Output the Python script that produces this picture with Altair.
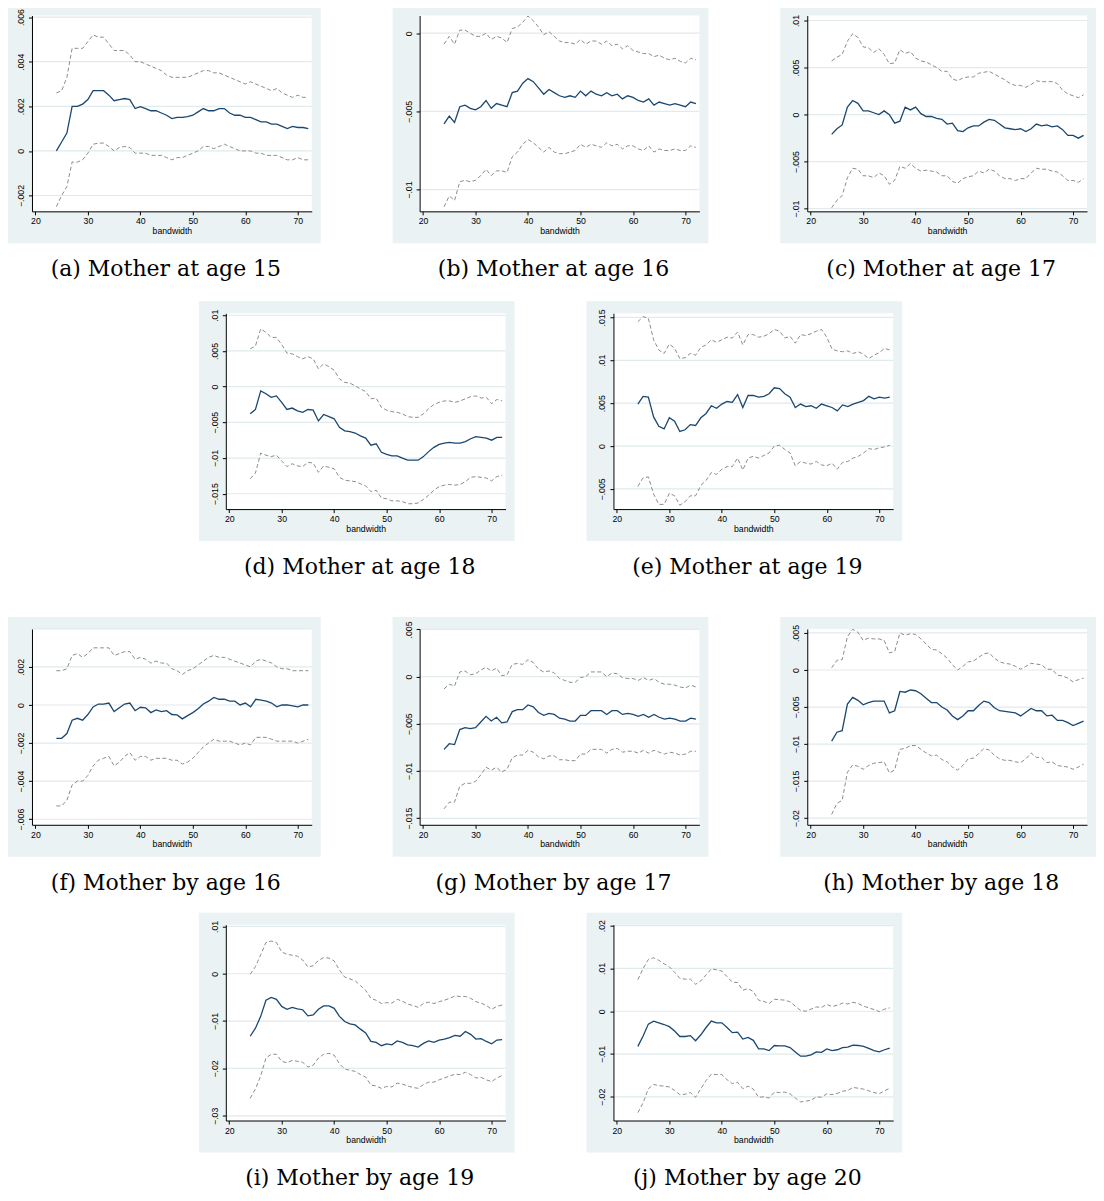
import altair as alt
import pandas as pd

BANDWIDTH = [24, 25, 26, 27, 28, 29, 30, 31, 32, 33,
             34, 35, 36, 37, 38, 39, 40, 41, 42, 43,
             44, 45, 46, 47, 48, 49, 50, 51, 52, 53,
             54, 55, 56, 57, 58, 59, 60, 61, 62, 63,
             64, 65, 66, 67, 68, 69, 70, 71, 72]

X_TICKS = [20, 30, 40, 50, 60, 70]

# (a) Mother at age 15
A_EST = [0.0000, 0.0004, 0.0008, 0.0020, 0.0020, 0.0021, 0.0023, 0.0027, 0.0027, 0.0027,
         0.0025, 0.00225, 0.0023, 0.00235, 0.0023, 0.0019, 0.00198, 0.0019, 0.0018, 0.0018,
         0.0017, 0.0016, 0.00145, 0.0015, 0.0015, 0.00154, 0.0016, 0.00175, 0.0019, 0.0018,
         0.0018, 0.0019, 0.0019, 0.0017, 0.0016, 0.0016, 0.0015, 0.0015, 0.0014, 0.0013,
         0.0013, 0.0012, 0.0012, 0.0011, 0.0010, 0.0011, 0.00105, 0.00105, 0.0010]
A_HI = [0.0026, 0.0027, 0.0033, 0.0046, 0.0046, 0.0046, 0.0049, 0.0052, 0.0051, 0.0051,
        0.0048, 0.0045, 0.0045, 0.0045, 0.0043, 0.0040, 0.0040, 0.0039, 0.0038, 0.0037,
        0.0036, 0.0034, 0.0033, 0.0033, 0.0033, 0.0033, 0.0034, 0.0035, 0.0036, 0.0036,
        0.0035, 0.0035, 0.0034, 0.0033, 0.0032, 0.0031, 0.0030, 0.0031, 0.0030, 0.0029,
        0.0028, 0.0027, 0.0028, 0.0026, 0.0025, 0.0024, 0.0025, 0.0024, 0.0024]
A_LO = [-0.0025, -0.0020, -0.0016, -0.0005, -0.0005, -0.0004, -0.0001, 0.0003, 0.00035, 0.00035,
        0.0002, 0.0000, 0.00015, 0.0002, 0.00015, -0.0001, -0.0001, -0.0001, -0.0002, -0.0002,
        -0.0002, -0.0003, -0.0004, -0.0003, -0.0003, -0.0002, -0.0001, 0.0000, 0.0002, 0.0002,
        0.0001, 0.0002, 0.0003, 0.0002, 0.0001, 0.0000, 0.0000, 0.0000, -0.0001, -0.0001,
        -0.0002, -0.0002, -0.0002, -0.0003, -0.0004, -0.0004, -0.0003, -0.0004, -0.0004]

# (b) Mother at age 16
B_EST = [-0.0058, -0.0053, -0.0057, -0.0047, -0.0046, -0.0048, -0.0049, -0.0047, -0.0043, -0.0048,
         -0.0045, -0.0046, -0.0047, -0.0038, -0.0037, -0.0032, -0.0029, -0.0031, -0.0035, -0.0039,
         -0.0036, -0.0038, -0.0040, -0.0041, -0.0040, -0.0041, -0.0037, -0.0040, -0.0037, -0.0039,
         -0.0040, -0.0038, -0.0040, -0.0039, -0.0042, -0.0040, -0.0041, -0.0043, -0.0044, -0.0042,
         -0.0046, -0.0044, -0.0045, -0.0046, -0.0045, -0.0046, -0.0047, -0.0044, -0.0045]
B_HI = [-0.0007, -0.0002, -0.0007, 0.0002, 0.0002, 0.0000, -0.0002, -0.0002, 0.0000, -0.0004,
        -0.0002, -0.0003, -0.0006, 0.0003, 0.0004, 0.0007, 0.0011, 0.0008, 0.0004, -0.0001,
        0.0001, -0.0002, -0.0005, -0.0006, -0.0006, -0.0007, -0.0004, -0.0007, -0.0005, -0.0005,
        -0.0007, -0.0005, -0.0008, -0.0007, -0.0010, -0.0008, -0.0011, -0.0012, -0.0013, -0.0013,
        -0.0015, -0.0014, -0.0016, -0.0017, -0.0016, -0.0018, -0.0019, -0.0016, -0.0017]
B_LO = [-0.0111, -0.0104, -0.0107, -0.0095, -0.0094, -0.0095, -0.0094, -0.0091, -0.0087, -0.0091,
        -0.0088, -0.0088, -0.0089, -0.0079, -0.0076, -0.0071, -0.0068, -0.0070, -0.0073, -0.0076,
        -0.0073, -0.0076, -0.0077, -0.0077, -0.0076, -0.0075, -0.0071, -0.0073, -0.0071, -0.0072,
        -0.0073, -0.0070, -0.0072, -0.0071, -0.0074, -0.0072, -0.0072, -0.0074, -0.0075, -0.0072,
        -0.0076, -0.0074, -0.0075, -0.0075, -0.0074, -0.0075, -0.0075, -0.0072, -0.0073]

# (c) Mother at age 17
C_EST = [-0.0021, -0.0015, -0.0011, 0.0008, 0.0015, 0.0012, 0.0004, 0.0004, 0.0002, 0.0000,
         0.0004, 0.0000, -0.0009, -0.0007, 0.0008, 0.0005, 0.0008, 0.0001, -0.0002, -0.0002,
         -0.0004, -0.0005, -0.0010, -0.0009, -0.0017, -0.0018, -0.0014, -0.0012, -0.0012, -0.0008,
         -0.0005, -0.0006, -0.0010, -0.0014, -0.0015, -0.0016, -0.0015, -0.0018, -0.0015, -0.0010,
         -0.0012, -0.0011, -0.0013, -0.0012, -0.0016, -0.0022, -0.0022, -0.0025, -0.0022]
C_HI = [0.0057, 0.0061, 0.0064, 0.0078, 0.0086, 0.0082, 0.0072, 0.0071, 0.0066, 0.0070,
        0.0064, 0.0054, 0.0055, 0.0069, 0.0065, 0.0067, 0.0060, 0.0057, 0.0056, 0.0053,
        0.0050, 0.0046, 0.0046, 0.0038, 0.0036, 0.0039, 0.0040, 0.0040, 0.0044, 0.0045,
        0.0046, 0.0043, 0.0040, 0.0037, 0.0033, 0.0031, 0.0031, 0.0029, 0.0032, 0.0036,
        0.0035, 0.0035, 0.0035, 0.0033, 0.0026, 0.0022, 0.0020, 0.0018, 0.0021]
C_LO = [-0.0099, -0.0091, -0.0086, -0.0067, -0.0057, -0.0058, -0.0065, -0.0065, -0.0067, -0.0062,
        -0.0065, -0.0074, -0.0070, -0.0055, -0.0057, -0.0052, -0.0057, -0.0060, -0.0059, -0.0060,
        -0.0061, -0.0065, -0.0065, -0.0071, -0.0073, -0.0068, -0.0066, -0.0065, -0.0060, -0.0062,
        -0.0058, -0.0060, -0.0065, -0.0068, -0.0068, -0.0070, -0.0068, -0.0068, -0.0062, -0.0057,
        -0.0058, -0.0058, -0.0060, -0.0061, -0.0065, -0.0070, -0.0070, -0.0072, -0.0068]

# (d) Mother at age 18
D_EST = [-0.0038, -0.0032, -0.0006, -0.0010, -0.0015, -0.0013, -0.0022, -0.0032, -0.0030, -0.0034,
         -0.0036, -0.0032, -0.0033, -0.0048, -0.0039, -0.0042, -0.0045, -0.0057, -0.0062, -0.0063,
         -0.0065, -0.0069, -0.0072, -0.0082, -0.0080, -0.0092, -0.0095, -0.0097, -0.0097, -0.0100,
         -0.0103, -0.0103, -0.0103, -0.0098, -0.0091, -0.0085, -0.0081, -0.0079, -0.0078, -0.0079,
         -0.0079, -0.0077, -0.0073, -0.0070, -0.0071, -0.0072, -0.0075, -0.0071, -0.0071]
D_HI = [0.0053, 0.0057, 0.0081, 0.0076, 0.0069, 0.0069, 0.0059, 0.0047, 0.0046, 0.0042,
        0.0039, 0.0042, 0.0039, 0.0025, 0.0032, 0.0028, 0.0023, 0.0011, 0.0006, 0.0005,
        0.0001, -0.0003, -0.0007, -0.0017, -0.0016, -0.0029, -0.0033, -0.0035, -0.0036, -0.0038,
        -0.0042, -0.0043, -0.0043, -0.0038, -0.0031, -0.0025, -0.0022, -0.0020, -0.0020, -0.0022,
        -0.0020, -0.0017, -0.0014, -0.0013, -0.0016, -0.0015, -0.0024, -0.0018, -0.0020]
D_LO = [-0.0129, -0.0121, -0.0093, -0.0096, -0.0098, -0.0096, -0.0104, -0.0112, -0.0108, -0.0111,
        -0.0112, -0.0106, -0.0107, -0.0120, -0.0111, -0.0113, -0.0115, -0.0127, -0.0131, -0.0132,
        -0.0133, -0.0136, -0.0139, -0.0147, -0.0145, -0.0156, -0.0157, -0.0160, -0.0160, -0.0161,
        -0.0164, -0.0164, -0.0163, -0.0158, -0.0152, -0.0145, -0.0140, -0.0138, -0.0137, -0.0138,
        -0.0137, -0.0133, -0.0127, -0.0126, -0.0127, -0.0128, -0.0132, -0.0126, -0.0124]

# (e) Mother at age 19
E_EST = [0.0049, 0.0058, 0.0057, 0.0034, 0.0023, 0.0020, 0.0033, 0.0029, 0.0017, 0.0019,
         0.0025, 0.0024, 0.0033, 0.0038, 0.0047, 0.0044, 0.0049, 0.0052, 0.0051, 0.0060,
         0.0045, 0.0059, 0.0059, 0.0057, 0.0058, 0.0061, 0.0068, 0.0067, 0.0061, 0.0057,
         0.0045, 0.0049, 0.0046, 0.0047, 0.0044, 0.0049, 0.0047, 0.0045, 0.0041, 0.0048,
         0.0046, 0.0049, 0.0051, 0.0053, 0.0058, 0.0055, 0.0057, 0.0056, 0.0057]
E_HI = [0.0145, 0.0151, 0.0149, 0.0124, 0.0112, 0.0108, 0.0119, 0.0114, 0.0102, 0.0103,
        0.0108, 0.0106, 0.0115, 0.0118, 0.0124, 0.0121, 0.0124, 0.0127, 0.0126, 0.0133,
        0.0118, 0.0130, 0.0130, 0.0127, 0.0128, 0.0131, 0.0136, 0.0134, 0.0126, 0.0128,
        0.0120, 0.0130, 0.0129, 0.0131, 0.0134, 0.0136, 0.0127, 0.0113, 0.0111, 0.0110,
        0.0111, 0.0108, 0.0110, 0.0107, 0.0102, 0.0106, 0.0109, 0.0114, 0.0112]
E_LO = [-0.0047, -0.0037, -0.0036, -0.0056, -0.0068, -0.0068, -0.0055, -0.0058, -0.0069, -0.0065,
        -0.0058, -0.0058, -0.0046, -0.0040, -0.0031, -0.0033, -0.0027, -0.0024, -0.0024, -0.0014,
        -0.0028, -0.0014, -0.0012, -0.0014, -0.0011, -0.0008, 0.0000, 0.0001, -0.0004, -0.0008,
        -0.0023, -0.0018, -0.0020, -0.0021, -0.0018, -0.0022, -0.0023, -0.0020, -0.0027, -0.0019,
        -0.0018, -0.0014, -0.0012, -0.0008, -0.0003, -0.0004, -0.0002, -0.0001, 0.0001]

# (f) Mother by age 16
F_EST = [-0.00175, -0.00175, -0.0015, -0.0008, -0.0007, -0.0008, -0.0005, -0.0001, 0.00005, 0.00005,
         0.0001, -0.00035, -0.00015, 0.00005, 0.0001, -0.0003, -0.00012, -0.00015, -0.0004, -0.00026,
         -0.00035, -0.0003, -0.0005, -0.00052, -0.00073, -0.00056, -0.0004, -0.0002, 0.00005, 0.0002,
         0.0004, 0.0003, 0.0003, 0.0002, 0.0002, 0.0000, 0.0001, -0.0001, 0.0003, 0.00025,
         0.0002, 0.0001, -0.0001, 0.0000, 0.0000, -0.00005, -0.0001, 0.0000, 0.0000]
F_HI = [0.0018, 0.0018, 0.0019, 0.0026, 0.0027, 0.0025, 0.0027, 0.0030, 0.0030, 0.0030,
        0.0030, 0.0026, 0.0027, 0.0028, 0.0028, 0.0024, 0.0025, 0.0024, 0.0022, 0.0023,
        0.0022, 0.0022, 0.0019, 0.0018, 0.0016, 0.0018, 0.0019, 0.0021, 0.0023, 0.0025,
        0.0026, 0.0025, 0.0025, 0.0024, 0.0023, 0.0022, 0.0021, 0.0020, 0.0023, 0.0024,
        0.0023, 0.0022, 0.0020, 0.0019, 0.0019, 0.0018, 0.0018, 0.0018, 0.0018]
F_LO = [-0.0053, -0.0053, -0.0050, -0.0042, -0.0040, -0.0040, -0.0037, -0.0032, -0.0029, -0.0028,
        -0.0027, -0.0032, -0.0030, -0.0027, -0.0025, -0.0029, -0.0027, -0.0027, -0.0029, -0.0028,
        -0.0028, -0.0028, -0.0029, -0.0029, -0.0031, -0.0030, -0.0028, -0.0025, -0.0022, -0.0020,
        -0.0018, -0.0019, -0.0019, -0.0019, -0.0020, -0.0021, -0.0020, -0.0021, -0.0017, -0.0017,
        -0.0017, -0.0018, -0.0019, -0.0019, -0.0019, -0.0019, -0.0020, -0.0019, -0.0018]

# (g) Mother by age 17
G_EST = [-0.0077, -0.0071, -0.0072, -0.0056, -0.0054, -0.0055, -0.0054, -0.0048, -0.0042, -0.0047,
         -0.0043, -0.0049, -0.0048, -0.0037, -0.0035, -0.0035, -0.0030, -0.0032, -0.0038, -0.0041,
         -0.0039, -0.0040, -0.0044, -0.0045, -0.0047, -0.0047, -0.0041, -0.0041, -0.0036, -0.0036,
         -0.0036, -0.0040, -0.0036, -0.0036, -0.0040, -0.0039, -0.0040, -0.0042, -0.0040, -0.0043,
         -0.0040, -0.0043, -0.0045, -0.0044, -0.0045, -0.0047, -0.0047, -0.0044, -0.0045]
G_HI = [-0.0013, -0.0008, -0.0010, 0.0005, 0.0006, 0.0002, 0.0003, 0.0007, 0.0010, 0.0006,
        0.0009, 0.0001, 0.0002, 0.0013, 0.0014, 0.0013, 0.0018, 0.0015, 0.0008, 0.0005,
        0.0006, 0.0004, -0.0002, -0.0004, -0.0006, -0.0006, -0.0001, 0.0000, 0.0005, 0.0005,
        0.0005, 0.0000, 0.0004, 0.0003, -0.0001, -0.0002, -0.0002, -0.0004, -0.0001, -0.0004,
        -0.0002, -0.0006, -0.0008, -0.0008, -0.0009, -0.0011, -0.0012, -0.0009, -0.0011]
G_LO = [-0.0140, -0.0133, -0.0133, -0.0116, -0.0113, -0.0113, -0.0111, -0.0104, -0.0096, -0.0099,
        -0.0096, -0.0101, -0.0098, -0.0086, -0.0083, -0.0083, -0.0078, -0.0080, -0.0085, -0.0087,
        -0.0084, -0.0084, -0.0088, -0.0088, -0.0089, -0.0089, -0.0082, -0.0082, -0.0077, -0.0077,
        -0.0077, -0.0081, -0.0077, -0.0076, -0.0080, -0.0079, -0.0079, -0.0081, -0.0078, -0.0081,
        -0.0078, -0.0080, -0.0082, -0.0080, -0.0081, -0.0083, -0.0082, -0.0079, -0.0079]

# (h) Mother by age 18
H_EST = [-0.0096, -0.0084, -0.0082, -0.0046, -0.0037, -0.0041, -0.0047, -0.0044, -0.0042, -0.0042,
         -0.0042, -0.0058, -0.0055, -0.0029, -0.0030, -0.0027, -0.0028, -0.0032, -0.0038, -0.0044,
         -0.0044, -0.0050, -0.0054, -0.0062, -0.0067, -0.0062, -0.0055, -0.0055, -0.0048, -0.0042,
         -0.0044, -0.0051, -0.0055, -0.0056, -0.0057, -0.0058, -0.0062, -0.0057, -0.0052, -0.0055,
         -0.0055, -0.0062, -0.0061, -0.0068, -0.0068, -0.0071, -0.0075, -0.0072, -0.0069]
H_HI = [0.0003, 0.0013, 0.0014, 0.0045, 0.0055, 0.0051, 0.0040, 0.0043, 0.0042, 0.0042,
        0.0040, 0.0023, 0.0025, 0.0050, 0.0047, 0.0049, 0.0048, 0.0042, 0.0035, 0.0028,
        0.0027, 0.0022, 0.0016, 0.0007, 0.0000, 0.0005, 0.0011, 0.0012, 0.0017, 0.0022,
        0.0023, 0.0016, 0.0011, 0.0009, 0.0008, 0.0005, 0.0001, 0.0005, 0.0009, 0.0008,
        0.0007, 0.0001, 0.0001, -0.0007, -0.0008, -0.0011, -0.0016, -0.0013, -0.0011]
H_LO = [-0.0195, -0.0180, -0.0176, -0.0138, -0.0128, -0.0130, -0.0134, -0.0129, -0.0126, -0.0125,
        -0.0124, -0.0139, -0.0135, -0.0107, -0.0106, -0.0102, -0.0102, -0.0107, -0.0112, -0.0116,
        -0.0115, -0.0121, -0.0124, -0.0131, -0.0135, -0.0129, -0.0120, -0.0119, -0.0113, -0.0106,
        -0.0108, -0.0115, -0.0120, -0.0122, -0.0122, -0.0124, -0.0125, -0.0120, -0.0112, -0.0118,
        -0.0118, -0.0125, -0.0124, -0.0129, -0.0130, -0.0131, -0.0134, -0.0131, -0.0127]

# (i) Mother by age 19
I_EST = [-0.0132, -0.0115, -0.0090, -0.0056, -0.0050, -0.0054, -0.0069, -0.0075, -0.0071, -0.0074,
         -0.0076, -0.0089, -0.0087, -0.0075, -0.0068, -0.0068, -0.0073, -0.0090, -0.0101, -0.0106,
         -0.0108, -0.0117, -0.0125, -0.0143, -0.0145, -0.0152, -0.0148, -0.0150, -0.0142, -0.0145,
         -0.0150, -0.0152, -0.0155, -0.0147, -0.0142, -0.0145, -0.0140, -0.0138, -0.0135, -0.0130,
         -0.0132, -0.0122, -0.0128, -0.0138, -0.0137, -0.0143, -0.0148, -0.0140, -0.0139]
I_HI = [-0.0001, 0.0015, 0.0040, 0.0066, 0.0069, 0.0066, 0.0046, 0.0041, 0.0039, 0.0037,
        0.0029, 0.0014, 0.0017, 0.0028, 0.0034, 0.0033, 0.0027, 0.0008, -0.0007, -0.0011,
        -0.0015, -0.0025, -0.0035, -0.0052, -0.0056, -0.0063, -0.0061, -0.0062, -0.0054, -0.0058,
        -0.0064, -0.0067, -0.0071, -0.0063, -0.0060, -0.0063, -0.0059, -0.0056, -0.0052, -0.0047,
        -0.0048, -0.0048, -0.0052, -0.0059, -0.0062, -0.0067, -0.0075, -0.0069, -0.0066]
I_LO = [-0.0263, -0.0243, -0.0216, -0.0178, -0.0170, -0.0170, -0.0185, -0.0188, -0.0183, -0.0185,
        -0.0187, -0.0197, -0.0193, -0.0178, -0.0170, -0.0168, -0.0172, -0.0190, -0.0201, -0.0204,
        -0.0206, -0.0213, -0.0218, -0.0235, -0.0237, -0.0242, -0.0238, -0.0239, -0.0231, -0.0233,
        -0.0237, -0.0240, -0.0242, -0.0234, -0.0229, -0.0229, -0.0224, -0.0220, -0.0216, -0.0212,
        -0.0213, -0.0208, -0.0213, -0.0220, -0.0219, -0.0224, -0.0228, -0.0220, -0.0215]

# (j) Mother by age 20
J_EST = [-0.0082, -0.0058, -0.0030, -0.0023, -0.0027, -0.0031, -0.0036, -0.0046, -0.0059, -0.0059,
         -0.0057, -0.0069, -0.0055, -0.0038, -0.0023, -0.0027, -0.0027, -0.0038, -0.0050, -0.0049,
         -0.0065, -0.0061, -0.0068, -0.0088, -0.0088, -0.0092, -0.0080, -0.0081, -0.0081, -0.0085,
         -0.0095, -0.0105, -0.0105, -0.0102, -0.0095, -0.0096, -0.0088, -0.0092, -0.0090, -0.0085,
         -0.0084, -0.0079, -0.0080, -0.0082, -0.0087, -0.0092, -0.0095, -0.0090, -0.0086]
J_HI = [0.0074, 0.0100, 0.0121, 0.0125, 0.0119, 0.0111, 0.0104, 0.0091, 0.0077, 0.0075,
        0.0075, 0.0063, 0.0071, 0.0085, 0.0099, 0.0097, 0.0094, 0.0081, 0.0068, 0.0067,
        0.0049, 0.0053, 0.0046, 0.0026, 0.0023, 0.0018, 0.0028, 0.0027, 0.0026, 0.0022,
        0.0012, 0.0002, 0.0000, 0.0005, 0.0010, 0.0009, 0.0016, 0.0011, 0.0014, 0.0019,
        0.0017, 0.0021, 0.0018, 0.0012, 0.0008, 0.0004, -0.0001, 0.0005, 0.0008]
J_LO = [-0.0237, -0.0214, -0.0181, -0.0171, -0.0174, -0.0175, -0.0177, -0.0185, -0.0195, -0.0194,
        -0.0190, -0.0201, -0.0181, -0.0162, -0.0147, -0.0148, -0.0148, -0.0160, -0.0169, -0.0166,
        -0.0181, -0.0175, -0.0182, -0.0201, -0.0200, -0.0203, -0.0189, -0.0190, -0.0189, -0.0193,
        -0.0203, -0.0212, -0.0210, -0.0208, -0.0200, -0.0201, -0.0193, -0.0195, -0.0192, -0.0187,
        -0.0185, -0.0178, -0.0180, -0.0182, -0.0186, -0.0190, -0.0193, -0.0186, -0.0180]

CAPTIONS = ["(a) Mother at age 15", "(b) Mother at age 16", "(c) Mother at age 17",
            "(d) Mother at age 18", "(e) Mother at age 19",
            "(f) Mother by age 16", "(g) Mother by age 17", "(h) Mother by age 18",
            "(i) Mother by age 19", "(j) Mother by age 20"]

Y_TICKS = [
    [-0.002, 0, 0.002, 0.004, 0.006],
    [-0.01, -0.005, 0],
    [-0.01, -0.005, 0, 0.005, 0.01],
    [-0.015, -0.01, -0.005, 0, 0.005, 0.01],
    [-0.005, 0, 0.005, 0.01, 0.015],
    [-0.006, -0.004, -0.002, 0, 0.002, 0.004],
    [-0.015, -0.01, -0.005, 0, 0.005],
    [-0.02, -0.015, -0.01, -0.005, 0, 0.005],
    [-0.03, -0.02, -0.01, 0, 0.01],
    [-0.02, -0.01, 0, 0.01, 0.02],
]
Y_DOMAINS = [
    [-0.00271, 0.00607],
    [-0.01139, 0.00113],
    [-0.01028, 0.01053],
    [-0.01715, 0.01028],
    [-0.00735, 0.01549],
    [-0.00629, 0.00399],
    [-0.01569, 0.00505],
    [-0.02090, 0.00554],
    [-0.03099, 0.01035],
    [-0.02554, 0.02023],
]

SERIES = [(A_EST, A_HI, A_LO), (B_EST, B_HI, B_LO), (C_EST, C_HI, C_LO),
          (D_EST, D_HI, D_LO), (E_EST, E_HI, E_LO),
          (F_EST, F_HI, F_LO), (G_EST, G_HI, G_LO), (H_EST, H_HI, H_LO),
          (I_EST, I_HI, I_LO), (J_EST, J_HI, J_LO)]

# ---- styling / geometry ----
BG = "#eaf2f3"
GRID = "#e1eaed"
NAVY = "#1a476f"
GRAY = "#8c8c8c"
FONT = "Liberation Sans"
PW, PH = 316, 240          # outer panel box
PLOT_W, PLOT_H = 280, 196  # plot region
LEFT, TOP = 27, 12         # offset of plot region inside panel
PITCHES = [298, 316, 296, None]

LABEL_EXPR = ("datum.value == 0 ? '0' : (datum.value < 0 ? '\u2212' : '') + "
              "substring(format(abs(datum.value), '.3~f'), 1)")


def panel(idx, pitch):
    est, hi, lo = SERIES[idx]
    ticks = Y_TICKS[idx]
    dom = Y_DOMAINS[idx]
    one = pd.DataFrame({"k": [0]})

    xs = alt.X("bw:Q", scale=alt.Scale(domain=[19.35, 72.65], nice=False, zero=False),
               axis=alt.Axis(values=X_TICKS, title="bandwidth", grid=False, zindex=1,
                             labelFont=FONT, labelFontSize=8.7, labelColor="black",
                             titleFont=FONT, titleFontSize=8.7, titleFontWeight="normal",
                             titleColor="black", titlePadding=1, labelPadding=2,
                             tickSize=3.5, tickColor="black", domainColor="black",
                             labelFlush=False, labelOverlap=False, format="d"))
    y_axis = alt.Axis(values=ticks, title=None, grid=False, zindex=1,
                      labelExpr=LABEL_EXPR, labelAngle=270, labelAlign="center",
                      labelBaseline="bottom", labelPadding=3,
                      labelFont=FONT, labelFontSize=8.7, labelColor="black",
                      tickSize=3.5, tickColor="black", domainColor="black",
                      labelFlush=False, labelOverlap=False)
    ys = alt.Y("val:Q", scale=alt.Scale(domain=dom, nice=False, zero=False), axis=y_axis)

    bg = alt.Chart(one).mark_rect(color=BG).encode(
        x=alt.value(-LEFT), x2=alt.value(PW - LEFT), y=alt.value(-TOP), y2=alt.value(PH - TOP))
    spacer_h = (pitch if pitch else PH)
    spacer = alt.Chart(one).mark_rect(opacity=0).encode(
        x=alt.value(-LEFT), x2=alt.value(PW - LEFT), y=alt.value(-TOP), y2=alt.value(spacer_h - TOP))
    white = alt.Chart(one).mark_rect(color="white").encode(
        x=alt.value(0), x2=alt.value(PLOT_W), y=alt.value(0), y2=alt.value(PLOT_H))
    grid = alt.Chart(pd.DataFrame({"val": ticks})).mark_rule(color=GRID, strokeWidth=1.2).encode(
        y=ys, x=alt.value(0), x2=alt.value(PLOT_W))

    ci_df = pd.DataFrame({"bw": BANDWIDTH + BANDWIDTH, "val": hi + lo,
                          "series": ["upper"] * len(hi) + ["lower"] * len(lo)})
    est_df = pd.DataFrame({"bw": BANDWIDTH, "val": est})
    ci = alt.Chart(ci_df).mark_line(color=GRAY, strokeWidth=1, strokeDash=[4, 2.5]).encode(
        x=xs, y=ys, detail="series:N")
    line = alt.Chart(est_df).mark_line(color=NAVY, strokeWidth=1.3).encode(x=xs, y=ys)

    cap = alt.Chart(pd.DataFrame({"caption": [CAPTIONS[idx]]})).mark_text(
        font="DejaVu Serif", fontSize=22, align="center", baseline="alphabetic",
        color="black").encode(
        x=alt.value(PW / 2 - LEFT + 3), y=alt.value(261), text="caption:N")

    return alt.layer(bg, spacer, white, grid, ci, line, cap).properties(
        width=PLOT_W, height=PLOT_H)


row1 = alt.hconcat(panel(0, PITCHES[0]), panel(1, PITCHES[0]), panel(2, PITCHES[0]), spacing=72)
row2 = alt.hconcat(panel(3, PITCHES[1]), panel(4, PITCHES[1]), spacing=72)
row3 = alt.hconcat(panel(5, PITCHES[2]), panel(6, PITCHES[2]), panel(7, PITCHES[2]), spacing=72)
row4 = alt.hconcat(panel(8, PITCHES[3]), panel(9, PITCHES[3]), spacing=72)

chart = alt.vconcat(row1, row2, row3, row4, spacing=0, center=True).properties(
    padding={"left": -3, "top": -5, "right": 0, "bottom": 0},
    background="white",
).configure_view(stroke=None)

chart.save("out.html", embed_options={"renderer": "svg", "actions": False})
